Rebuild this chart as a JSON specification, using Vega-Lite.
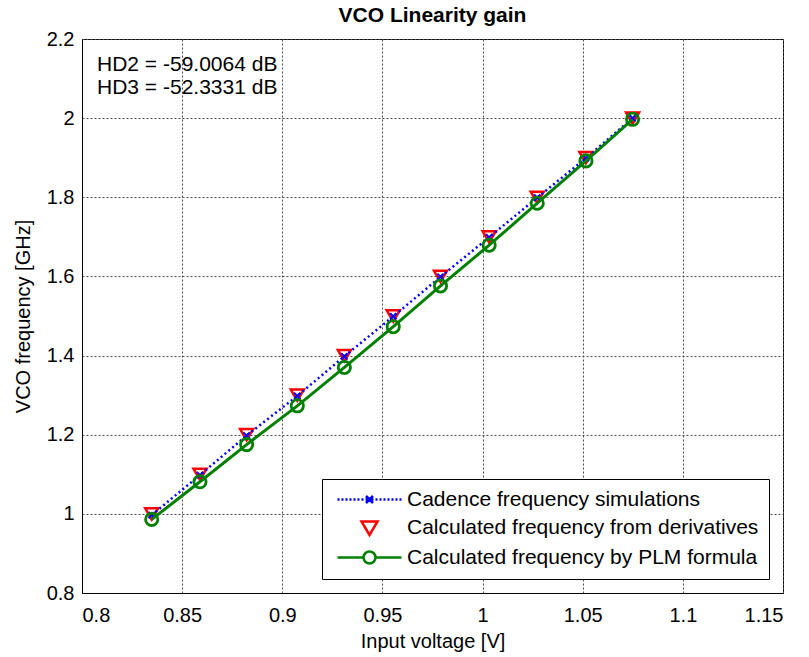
{
  "$schema": "https://vega.github.io/schema/vega-lite/v6.json",
  "width": 701,
  "height": 554,
  "autosize": {"type": "none"},
  "padding": {"left": 82, "top": 39, "right": 26, "bottom": 64},
  "background": "white",
  "title": {"text": "VCO Linearity gain", "fontSize": 21, "fontWeight": "bold", "font": "Liberation Sans", "color": "black", "offset": 3, "anchor": "middle"},
  "config": {
    "font": "Liberation Sans",
    "view": {"stroke": "black", "strokeWidth": 1},
    "axis": {
      "domainColor": "black", "domainWidth": 1,
      "labelColor": "black", "labelFontSize": 20, "labelFont": "Liberation Sans",
      "titleColor": "black", "titleFontSize": 20, "titleFontWeight": "normal", "titleFont": "Liberation Sans",
      "ticks": false, "labelPadding": 8,
      "grid": true, "gridColor": "#4a4a4a", "gridDash": [2, 2], "gridWidth": 1
    }
  },
  "data": {"values": [
    {"v": 0.8348, "series": "Cadence frequency simulations", "f": 0.997},
    {"v": 0.8589, "series": "Cadence frequency simulations", "f": 1.098},
    {"v": 0.8822, "series": "Cadence frequency simulations", "f": 1.198},
    {"v": 0.9075, "series": "Cadence frequency simulations", "f": 1.298},
    {"v": 0.931, "series": "Cadence frequency simulations", "f": 1.398},
    {"v": 0.9554, "series": "Cadence frequency simulations", "f": 1.499},
    {"v": 0.979, "series": "Cadence frequency simulations", "f": 1.599},
    {"v": 1.0033, "series": "Cadence frequency simulations", "f": 1.699},
    {"v": 1.0273, "series": "Cadence frequency simulations", "f": 1.799},
    {"v": 1.0516, "series": "Cadence frequency simulations", "f": 1.899},
    {"v": 1.0749, "series": "Cadence frequency simulations", "f": 2.0},
    {"v": 0.8348, "series": "Calculated frequency from derivatives", "f": 1.0},
    {"v": 0.8589, "series": "Calculated frequency from derivatives", "f": 1.1},
    {"v": 0.8822, "series": "Calculated frequency from derivatives", "f": 1.2},
    {"v": 0.9075, "series": "Calculated frequency from derivatives", "f": 1.3},
    {"v": 0.931, "series": "Calculated frequency from derivatives", "f": 1.4},
    {"v": 0.9554, "series": "Calculated frequency from derivatives", "f": 1.5},
    {"v": 0.979, "series": "Calculated frequency from derivatives", "f": 1.6},
    {"v": 1.0033, "series": "Calculated frequency from derivatives", "f": 1.7},
    {"v": 1.0273, "series": "Calculated frequency from derivatives", "f": 1.8},
    {"v": 1.0516, "series": "Calculated frequency from derivatives", "f": 1.9},
    {"v": 1.0749, "series": "Calculated frequency from derivatives", "f": 2.0},
    {"v": 0.8348, "series": "Calculated frequency by PLM formula", "f": 0.986},
    {"v": 0.8589, "series": "Calculated frequency by PLM formula", "f": 1.081},
    {"v": 0.8822, "series": "Calculated frequency by PLM formula", "f": 1.175},
    {"v": 0.9075, "series": "Calculated frequency by PLM formula", "f": 1.273},
    {"v": 0.931, "series": "Calculated frequency by PLM formula", "f": 1.370},
    {"v": 0.9554, "series": "Calculated frequency by PLM formula", "f": 1.473},
    {"v": 0.979, "series": "Calculated frequency by PLM formula", "f": 1.576},
    {"v": 1.0033, "series": "Calculated frequency by PLM formula", "f": 1.679},
    {"v": 1.0273, "series": "Calculated frequency by PLM formula", "f": 1.785},
    {"v": 1.0516, "series": "Calculated frequency by PLM formula", "f": 1.892},
    {"v": 1.0749, "series": "Calculated frequency by PLM formula", "f": 1.997}
  ]},
  "encoding": {
    "x": {"field": "v", "type": "quantitative", "scale": {"domain": [0.8, 1.15], "zero": false, "nice": false},
      "axis": {"title": "Input voltage [V]", "values": [0.8, 0.85, 0.9, 0.95, 1, 1.05, 1.1, 1.15], "format": "~g", "labelPadding": 12, "titlePadding": 6}},
    "y": {"field": "f", "type": "quantitative", "scale": {"domain": [0.8, 2.2], "zero": false, "nice": false},
      "axis": {"title": "VCO frequency [GHz]", "values": [0.8, 1, 1.2, 1.4, 1.6, 1.8, 2, 2.2], "format": "~g", "titlePadding": 13}}
  },
  "layer": [
    {
      "transform": [{"filter": "datum.series == 'Calculated frequency from derivatives'"}],
      "mark": {"type": "point", "shape": "triangle-down", "filled": false, "stroke": "#ff0000", "strokeWidth": 2.5, "size": 170, "opacity": 1}
    },
    {
      "transform": [{"filter": "datum.series == 'Cadence frequency simulations'"}],
      "mark": {"type": "line", "color": "#0000ff", "strokeWidth": 2.5, "strokeDash": [2, 3]}
    },
    {
      "transform": [{"filter": "datum.series == 'Cadence frequency simulations'"}],
      "mark": {"type": "point", "shape": "M-1,-1L1,1M-1,1L1,-1", "filled": false, "stroke": "#0000ff", "strokeWidth": 2, "size": 40, "opacity": 1}
    },
    {
      "transform": [{"filter": "datum.series == 'Calculated frequency by PLM formula'"}],
      "mark": {"type": "line", "color": "#008000", "strokeWidth": 3}
    },
    {
      "transform": [{"filter": "datum.series == 'Calculated frequency by PLM formula'"}],
      "mark": {"type": "point", "shape": "circle", "filled": false, "stroke": "#008000", "strokeWidth": 2.8, "size": 150, "opacity": 1}
    },
    {
      "mark": {"type": "point", "filled": false, "opacity": 0, "size": 100},
      "encoding": {
        "color": {"field": "series", "type": "nominal",
          "scale": {"domain": ["Cadence frequency simulations", "Calculated frequency from derivatives", "Calculated frequency by PLM formula"], "range": ["#0000ff", "#ff0000", "#008000"]},
          "legend": {"title": null, "orient": "bottom-right", "offset": 14, "padding": 10, "strokeColor": "black", "fillColor": "white", "cornerRadius": 0,
            "labelFontSize": 21, "labelFont": "Liberation Sans", "labelColor": "black", "labelLimit": 600, "labelOffset": 54, "rowPadding": 6,
            "symbolSize": 100, "symbolStrokeWidth": 2.5,
            "encode": {"symbols": {"update": {"opacity": {"value": 1}, "fillOpacity": {"value": 0}, "strokeOpacity": {"value": 1}}}}}
        },
        "shape": {"field": "series", "type": "nominal",
          "scale": {"domain": ["Cadence frequency simulations", "Calculated frequency from derivatives", "Calculated frequency by PLM formula"],
            "range": [
              "M-1,0L-0.6,0M-0.2,0L0.2,0M0.6,0L1,0M1.4,0L1.8,0M2.2,0L2.6,0M3,0L3.4,0M3.8,0L4.2,0M6.6,0L7,0M7.4,0L7.8,0M8.2,0L8.6,0M9,0L9.4,0M9.8,0L10.2,0M10.6,0L11,0M11.4,0L11.8,0M4.7,-0.7L6.1,0.7M4.7,0.7L6.1,-0.7M4.6,0L6.2,0",
              "M3.8,-1.2L7,-1.2L5.4,1.5Z",
              "M-1,0L4.2,0M6.6,0L11.8,0M4.2,0A1.2,1.2,0,1,1,6.6,0A1.2,1.2,0,1,1,4.2,0Z"
            ]}
        }
      }
    },
    {
      "transform": [{"filter": "datum.series == 'Calculated frequency by PLM formula' && datum.v < 0.84"}],
      "mark": {"type": "text", "text": "HD2 = -59.0064 dB", "align": "left", "baseline": "middle", "fontSize": 21, "font": "Liberation Sans", "color": "black"},
      "encoding": {"x": {"datum": 0.8075, "type": "quantitative"}, "y": {"datum": 2.1343, "type": "quantitative"}}
    },
    {
      "transform": [{"filter": "datum.series == 'Calculated frequency by PLM formula' && datum.v < 0.84"}],
      "mark": {"type": "text", "text": "HD3 = -52.3331 dB", "align": "left", "baseline": "middle", "fontSize": 21, "font": "Liberation Sans", "color": "black"},
      "encoding": {"x": {"datum": 0.8075, "type": "quantitative"}, "y": {"datum": 2.0762, "type": "quantitative"}}
    }
  ]
}
